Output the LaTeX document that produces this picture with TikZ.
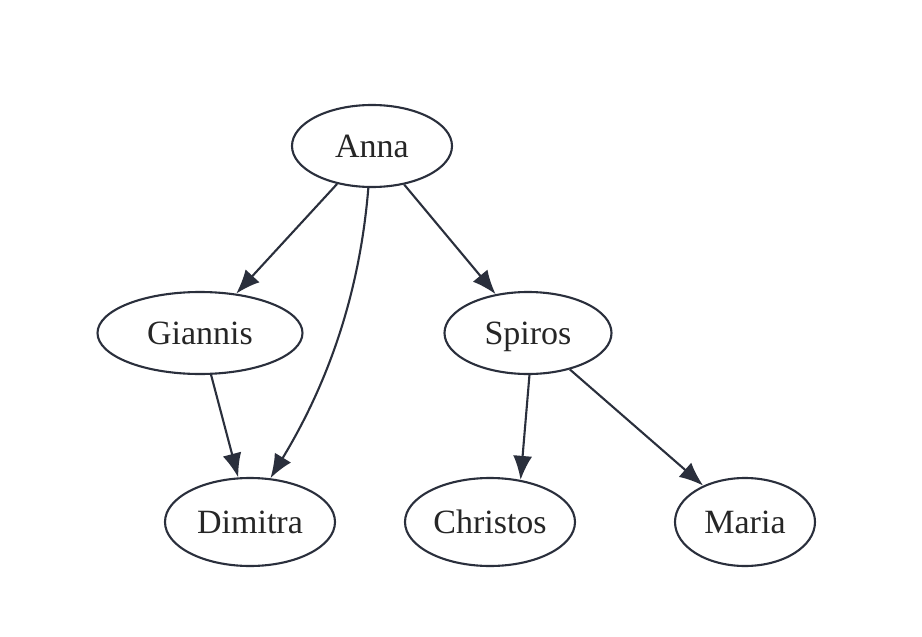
\documentclass[tikz,border=0pt]{standalone}
\usepackage{fontspec}
\setmainfont{Liberation Serif}
\usetikzlibrary{shapes.geometric,arrows.meta}
\definecolor{ink}{RGB}{42,47,60}
\begin{document}
\begin{tikzpicture}[x=1pt,y=-1pt,
  person/.style={ellipse,draw=ink,line width=2.1pt,minimum width=#1,
    minimum height=82pt,inner sep=0pt,text=black!85,
    text height=30pt,text depth=8pt,
    font=\fontsize{34}{34}\selectfont},
  link/.style={draw=ink,line width=2.1pt,-{Latex[length=24pt,width=19pt]}}]
\useasboundingbox[fill=white] (0,0) rectangle (922,637);

% family members
\node[person=160pt] (anna)     at (372,146) {Anna};
\node[person=205pt] (giannis)  at (200,333) {Giannis};
\node[person=167pt] (spiros)   at (528,333) {Spiros};
\node[person=170pt,minimum height=88pt] (dimitra)  at (250,522) {Dimitra};
\node[person=170pt,minimum height=88pt] (christos) at (490,522) {Christos};
\node[person=140pt,minimum height=88pt] (maria)    at (745,522) {Maria};

% parent -> child links
\draw[link] (anna) -- (giannis);
\draw[link] (anna) -- (spiros);
\draw[link] (anna.-95) .. controls (360,290) and (330,380) .. (dimitra.65);
\draw[link] (giannis) -- (dimitra);
\draw[link] (spiros.-88) -- (christos.54);
\draw[link] (spiros) -- (maria);
\end{tikzpicture}
\end{document}
